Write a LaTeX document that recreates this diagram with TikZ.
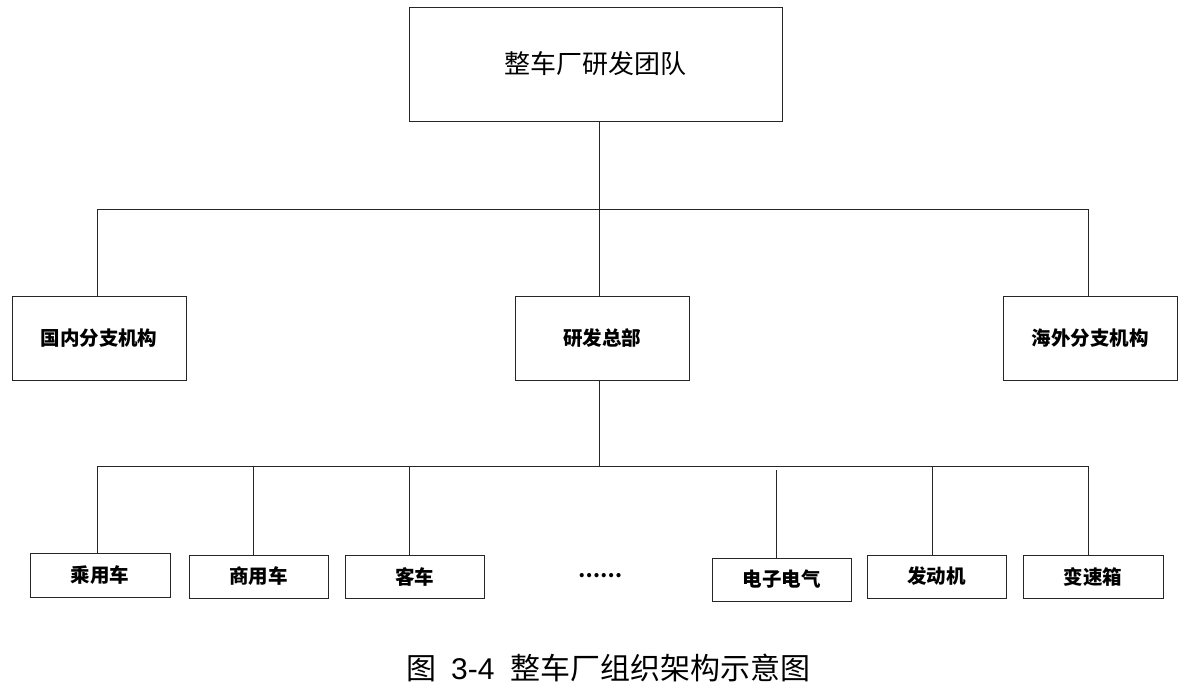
\documentclass[tikz,border=0pt]{standalone}
\usepackage{fontspec}
\newfontfamily\cjk{Noto Sans CJK SC}
\newfontfamily\arialf{Liberation Sans}
\begin{document}
\begin{tikzpicture}[x=1pt,y=-1pt,
  box/.style={draw=black!85,line width=1pt,inner sep=0pt,anchor=center},
  topbox/.style={box,font=\cjk\fontsize{26}{30}\selectfont},
  midbox/.style={box,font=\cjk\bfseries\fontsize{19.5}{23}\selectfont},
  link/.style={draw=black!85,line width=1pt}]
\useasboundingbox (0,0) rectangle (1186,691);
% top
\node[topbox,minimum width=373pt,minimum height=114pt] (top) at (595.5,64) {整车厂研发团队};
% middle level
\node[midbox,minimum width=174pt,minimum height=84pt] (dom) at (99,338) {国内分支机构};
\node[midbox,minimum width=174pt,minimum height=84pt] (hq) at (602,338) {研发总部};
\node[midbox,minimum width=174pt,minimum height=84pt] (ovs) at (1090,338) {海外分支机构};
% bottom level
\node[midbox,minimum width=140pt,minimum height=44pt] (b1) at (100,575) {乘用车};
\node[midbox,minimum width=139pt,minimum height=43pt] (b2) at (258.5,576.5) {商用车};
\node[midbox,minimum width=139pt,minimum height=43pt] (b3) at (414.5,576.5) {客车};
\node[font=\cjk\bfseries\fontsize{19.5}{23}\selectfont,inner sep=0pt] (dots) at (600,576) {……};
\node[midbox,minimum width=139pt,minimum height=43pt] (b4) at (781.5,579.5) {电子电气};
\node[midbox,minimum width=139pt,minimum height=43pt] (b5) at (936.5,576.5) {发动机};
\node[midbox,minimum width=140pt,minimum height=43pt] (b6) at (1093,576.5) {变速箱};
% junction coordinates
\coordinate (j1) at (599,209);
\coordinate (j2) at (599,466);
\coordinate (x1) at (97,466);
\coordinate (x2) at (253,466);
\coordinate (x3) at (409,466);
\coordinate (x4) at (776,470);
\coordinate (x5) at (932,466);
\coordinate (x6) at (1088,466);
\coordinate (l1) at (97,209);
\coordinate (l3) at (1088,209);
% connectors level 1
\draw[link] (j1 |- top.south) -- (j1);
\draw[link] (l1 |- dom.north) -- (l1) -- (l3) -- (l3 |- ovs.north);
\draw[link] (j1) -- (j1 |- hq.north);
% connectors level 2
\draw[link] (j2 |- hq.south) -- (j2);
\draw[link] (x1 |- b1.north) -- (x1) -- (x6) -- (x6 |- b6.north);
\draw[link] (x2) -- (x2 |- b2.north);
\draw[link] (x3) -- (x3 |- b3.north);
\draw[link] (x4) -- (x4 |- b4.north);
\draw[link] (x5) -- (x5 |- b5.north);
% caption
\node[anchor=west,inner sep=0pt,font=\cjk\fontsize{30}{34}\selectfont] (cap) at (406,668) {图\hspace{15pt}{\arialf 3-4}\hspace{16pt}整车厂组织架构示意图};
\end{tikzpicture}
\end{document}
